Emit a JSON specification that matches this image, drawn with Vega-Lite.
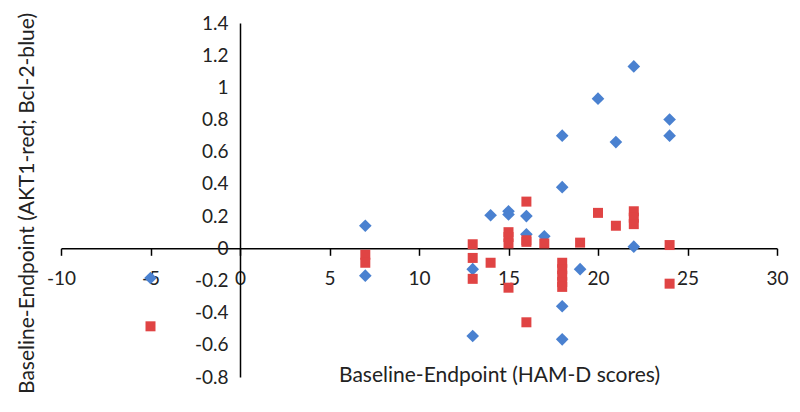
{
  "$schema": "https://vega.github.io/schema/vega-lite/v6.json",
  "width": 716,
  "height": 354,
  "autosize": {"type": "none"},
  "padding": {"left": 61, "top": 23, "right": 23, "bottom": 35},
  "background": "white",
  "config": {
    "view": {"stroke": null},
    "font": "Lato",
    "axis": {
      "grid": false,
      "domainColor": "black",
      "domainWidth": 1.5,
      "tickColor": "black",
      "tickWidth": 1.5,
      "labelFont": "Lato",
      "labelFontSize": 19,
      "labelColor": "#222222",
      "titleFont": "Lato",
      "titleFontSize": 21,
      "titleFontWeight": "normal",
      "titleColor": "#222222"
    }
  },
  "datasets": {
    "bcl2": [
      {"ham": 22, "delta": 1.13}, {"ham": 20, "delta": 0.93}, {"ham": 24, "delta": 0.80},
      {"ham": 24, "delta": 0.70}, {"ham": 18, "delta": 0.70}, {"ham": 21, "delta": 0.66},
      {"ham": 18, "delta": 0.38}, {"ham": 14, "delta": 0.205}, {"ham": 15, "delta": 0.21},
      {"ham": 15, "delta": 0.23}, {"ham": 16, "delta": 0.20}, {"ham": 16, "delta": 0.087},
      {"ham": 17, "delta": 0.075}, {"ham": 22, "delta": 0.01}, {"ham": 13, "delta": -0.13},
      {"ham": 19, "delta": -0.13}, {"ham": 18, "delta": -0.36}, {"ham": 13, "delta": -0.545},
      {"ham": 18, "delta": -0.566}, {"ham": 7, "delta": 0.14}, {"ham": 7, "delta": -0.17},
      {"ham": -5, "delta": -0.185}
    ],
    "akt1": [
      {"ham": 16, "delta": 0.29}, {"ham": 20, "delta": 0.22}, {"ham": 21, "delta": 0.14},
      {"ham": 22, "delta": 0.23}, {"ham": 22, "delta": 0.19}, {"ham": 22, "delta": 0.15},
      {"ham": 15, "delta": 0.10}, {"ham": 15, "delta": 0.07}, {"ham": 15, "delta": 0.03},
      {"ham": 16, "delta": 0.05}, {"ham": 16, "delta": 0.04}, {"ham": 17, "delta": 0.03},
      {"ham": 19, "delta": 0.035}, {"ham": 24, "delta": 0.02}, {"ham": 13, "delta": 0.025},
      {"ham": 13, "delta": -0.06}, {"ham": 13, "delta": -0.19}, {"ham": 14, "delta": -0.09},
      {"ham": 15, "delta": -0.245}, {"ham": 18, "delta": -0.09}, {"ham": 18, "delta": -0.13},
      {"ham": 18, "delta": -0.17}, {"ham": 18, "delta": -0.21}, {"ham": 18, "delta": -0.24},
      {"ham": 24, "delta": -0.22}, {"ham": 16, "delta": -0.46}, {"ham": 7, "delta": -0.04},
      {"ham": 7, "delta": -0.09}, {"ham": -5, "delta": -0.485}
    ]
  },
  "encoding": {
    "x": {
      "field": "ham", "type": "quantitative",
      "scale": {"domain": [-10, 30], "nice": false, "zero": false},
      "axis": {
        "title": "Baseline-Endpoint (HAM-D scores)",
        "values": [-10, -5, 0, 5, 10, 15, 20, 25, 30],
        "labelExpr": "'' + datum.value",
        "offset": -128.7,
        "tickSize": 7,
        "labelPadding": 14,
        "labelFlush": false,
        "labelOverlap": false,
        "titleX": 438,
        "titleY": 127,
        "titleBaseline": "middle"
      }
    },
    "y": {
      "field": "delta", "type": "quantitative",
      "scale": {"domain": [-0.8, 1.4], "nice": false, "zero": false},
      "axis": {
        "title": "Baseline-Endpoint (AKT1-red; Bcl-2-blue)",
        "values": [-0.8, -0.6, -0.4, -0.2, 0, 0.2, 0.4, 0.6, 0.8, 1, 1.2, 1.4],
        "labelExpr": "'' + datum.value",
        "offset": -179,
        "ticks": false,
        "labelPadding": 12,
        "labelFlush": false,
        "labelOverlap": false,
        "titleX": -213,
        "titleY": 180,
        "titleBaseline": "middle"
      }
    }
  },
  "layer": [
    {
      "data": {"name": "bcl2"},
      "mark": {"type": "point", "shape": "diamond", "filled": true, "size": 160, "color": "#4A81D0", "opacity": 1}
    },
    {
      "data": {"name": "akt1"},
      "mark": {"type": "point", "shape": "square", "filled": true, "size": 100, "color": "#E04444", "opacity": 1}
    }
  ]
}
